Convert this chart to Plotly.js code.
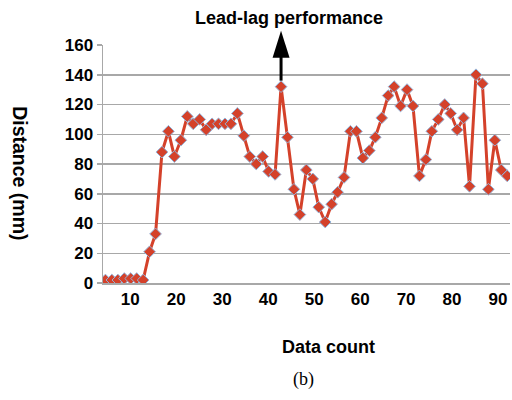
<!DOCTYPE html>
<html>
<head>
<meta charset="utf-8">
<script src="https://cdn.plot.ly/plotly-3.0.1.min.js"></script>
<style>html,body{margin:0;padding:0;background:#fff;}#chart{width:512px;height:400px;}</style>
</head>
<body>
<div id="chart"></div>
<script>
// Data count (x)
const dataCount = [4.6, 6.0, 7.3, 8.7, 10.1, 11.4, 12.8, 14.2, 15.5, 16.9,
  18.3, 19.6, 21.0, 22.4, 23.7, 25.1, 26.5, 27.8, 29.2, 30.6,
  31.9, 33.3, 34.7, 36.0, 37.4, 38.8, 40.1, 41.5, 42.8, 44.2,
  45.6, 46.9, 48.3, 49.7, 51.0, 52.4, 53.8, 55.1, 56.5, 57.9,
  59.2, 60.6, 62.0, 63.3, 64.7, 66.1, 67.4, 68.8, 70.2, 71.5,
  72.9, 74.3, 75.6, 77.0, 78.4, 79.7, 81.1, 82.5, 83.8, 85.2,
  86.6, 87.9, 89.3, 90.7, 92.0];
// Distance (mm)
const distance = [2, 2, 2, 3, 3, 3, 2, 21, 33, 88,
  102, 85, 96, 112, 107, 110, 103, 107, 107, 107,
  107, 114, 99, 85, 80, 85, 75, 73, 132, 98,
  63, 46, 76, 70, 51, 41, 53, 61, 71, 102,
  102, 84, 89, 98, 111, 126, 132, 119, 130, 119,
  72, 83, 102, 110, 120, 114, 103, 111, 65, 140,
  134, 63, 96, 76, 72];
const xTicks = [10, 20, 30, 40, 50, 60, 70, 80, 90];
const yTicks = [0, 20, 40, 60, 80, 100, 120, 140, 160];
const peakIndex = 28; // lead-lag performance point

const yRange = [0, 160];
const FONT = 'Liberation Sans, Arial, sans-serif';
const grey = '#a8a8a8';

const trace = {
  x: dataCount, y: distance,
  type: 'scatter', mode: 'lines+markers',
  line: {color: '#d4412a', width: 3},
  marker: {symbol: 'diamond', size: 9, color: '#d4412a', line: {color: '#93b3da', width: 1}},
  hoverinfo: 'x+y'
};

const anchorY = (distance[peakIndex] - yRange[0]) / (yRange[1] - yRange[0]);

const layout = {
  width: 512, height: 400,
  margin: {l: 103, r: 2, t: 45, b: 117},
  paper_bgcolor: '#fff', plot_bgcolor: '#fff',
  showlegend: false,
  font: {family: FONT, color: '#000'},
  title: {text: 'Lead-lag performance', font: {family: FONT, size: 18, weight: 'bold', color: '#000'},
          x: 289/512, xanchor: 'center', y: 1 - 18/400, yanchor: 'middle'},
  xaxis: {
    range: [4.07, 92.6], tickvals: xTicks, ticktext: xTicks.map(String),
    showgrid: false, zeroline: false, showline: true, linecolor: grey, linewidth: 1.5,
    ticks: '', tickfont: {family: FONT, size: 17, weight: 'bold', color: '#000'}
  },
  yaxis: {
    range: yRange, tickvals: yTicks,
    showgrid: true, gridcolor: grey, gridwidth: 1.5, zeroline: false,
    showline: true, linecolor: grey, linewidth: 1.5,
    ticks: 'outside', ticklen: 5, tickcolor: grey, tickwidth: 1.5,
    tickfont: {family: FONT, size: 17, weight: 'bold', color: '#000'}
  },
  shapes: [
    {type: 'path', xref: 'x', yref: 'paper', xsizemode: 'pixel', ysizemode: 'pixel',
     xanchor: dataCount[peakIndex], yanchor: anchorY,
     path: 'M-8.5,29 L8.5,29 L0,56 Z', fillcolor: '#000', line: {width: 0}},
    {type: 'line', xref: 'x', yref: 'paper', xsizemode: 'pixel', ysizemode: 'pixel',
     xanchor: dataCount[peakIndex], yanchor: anchorY,
     x0: 0, x1: 0, y0: 6, y1: 30, line: {color: '#000', width: 3}}
  ],
  annotations: [
    {text: 'Data count', xref: 'paper', yref: 'paper', x: 0.553, y: -0.267,
     xanchor: 'center', yanchor: 'middle', showarrow: false,
     font: {family: FONT, size: 18, weight: 'bold', color: '#000'}},
    {text: 'Distance (mm)', xref: 'paper', yref: 'paper', x: -0.203, y: 0.46,
     xanchor: 'center', yanchor: 'middle', showarrow: false, textangle: 90,
     font: {family: FONT, size: 19.5, weight: 'bold', color: '#000'}},
    {text: '(b)', xref: 'paper', yref: 'paper', x: 0.492, y: -0.405,
     xanchor: 'center', yanchor: 'middle', showarrow: false,
     font: {family: 'Liberation Serif, Times New Roman, serif', size: 18, color: '#000'}}
  ]
};

Plotly.newPlot('chart', [trace], layout, {displayModeBar: false, staticPlot: true});
</script>
</body>
</html>
